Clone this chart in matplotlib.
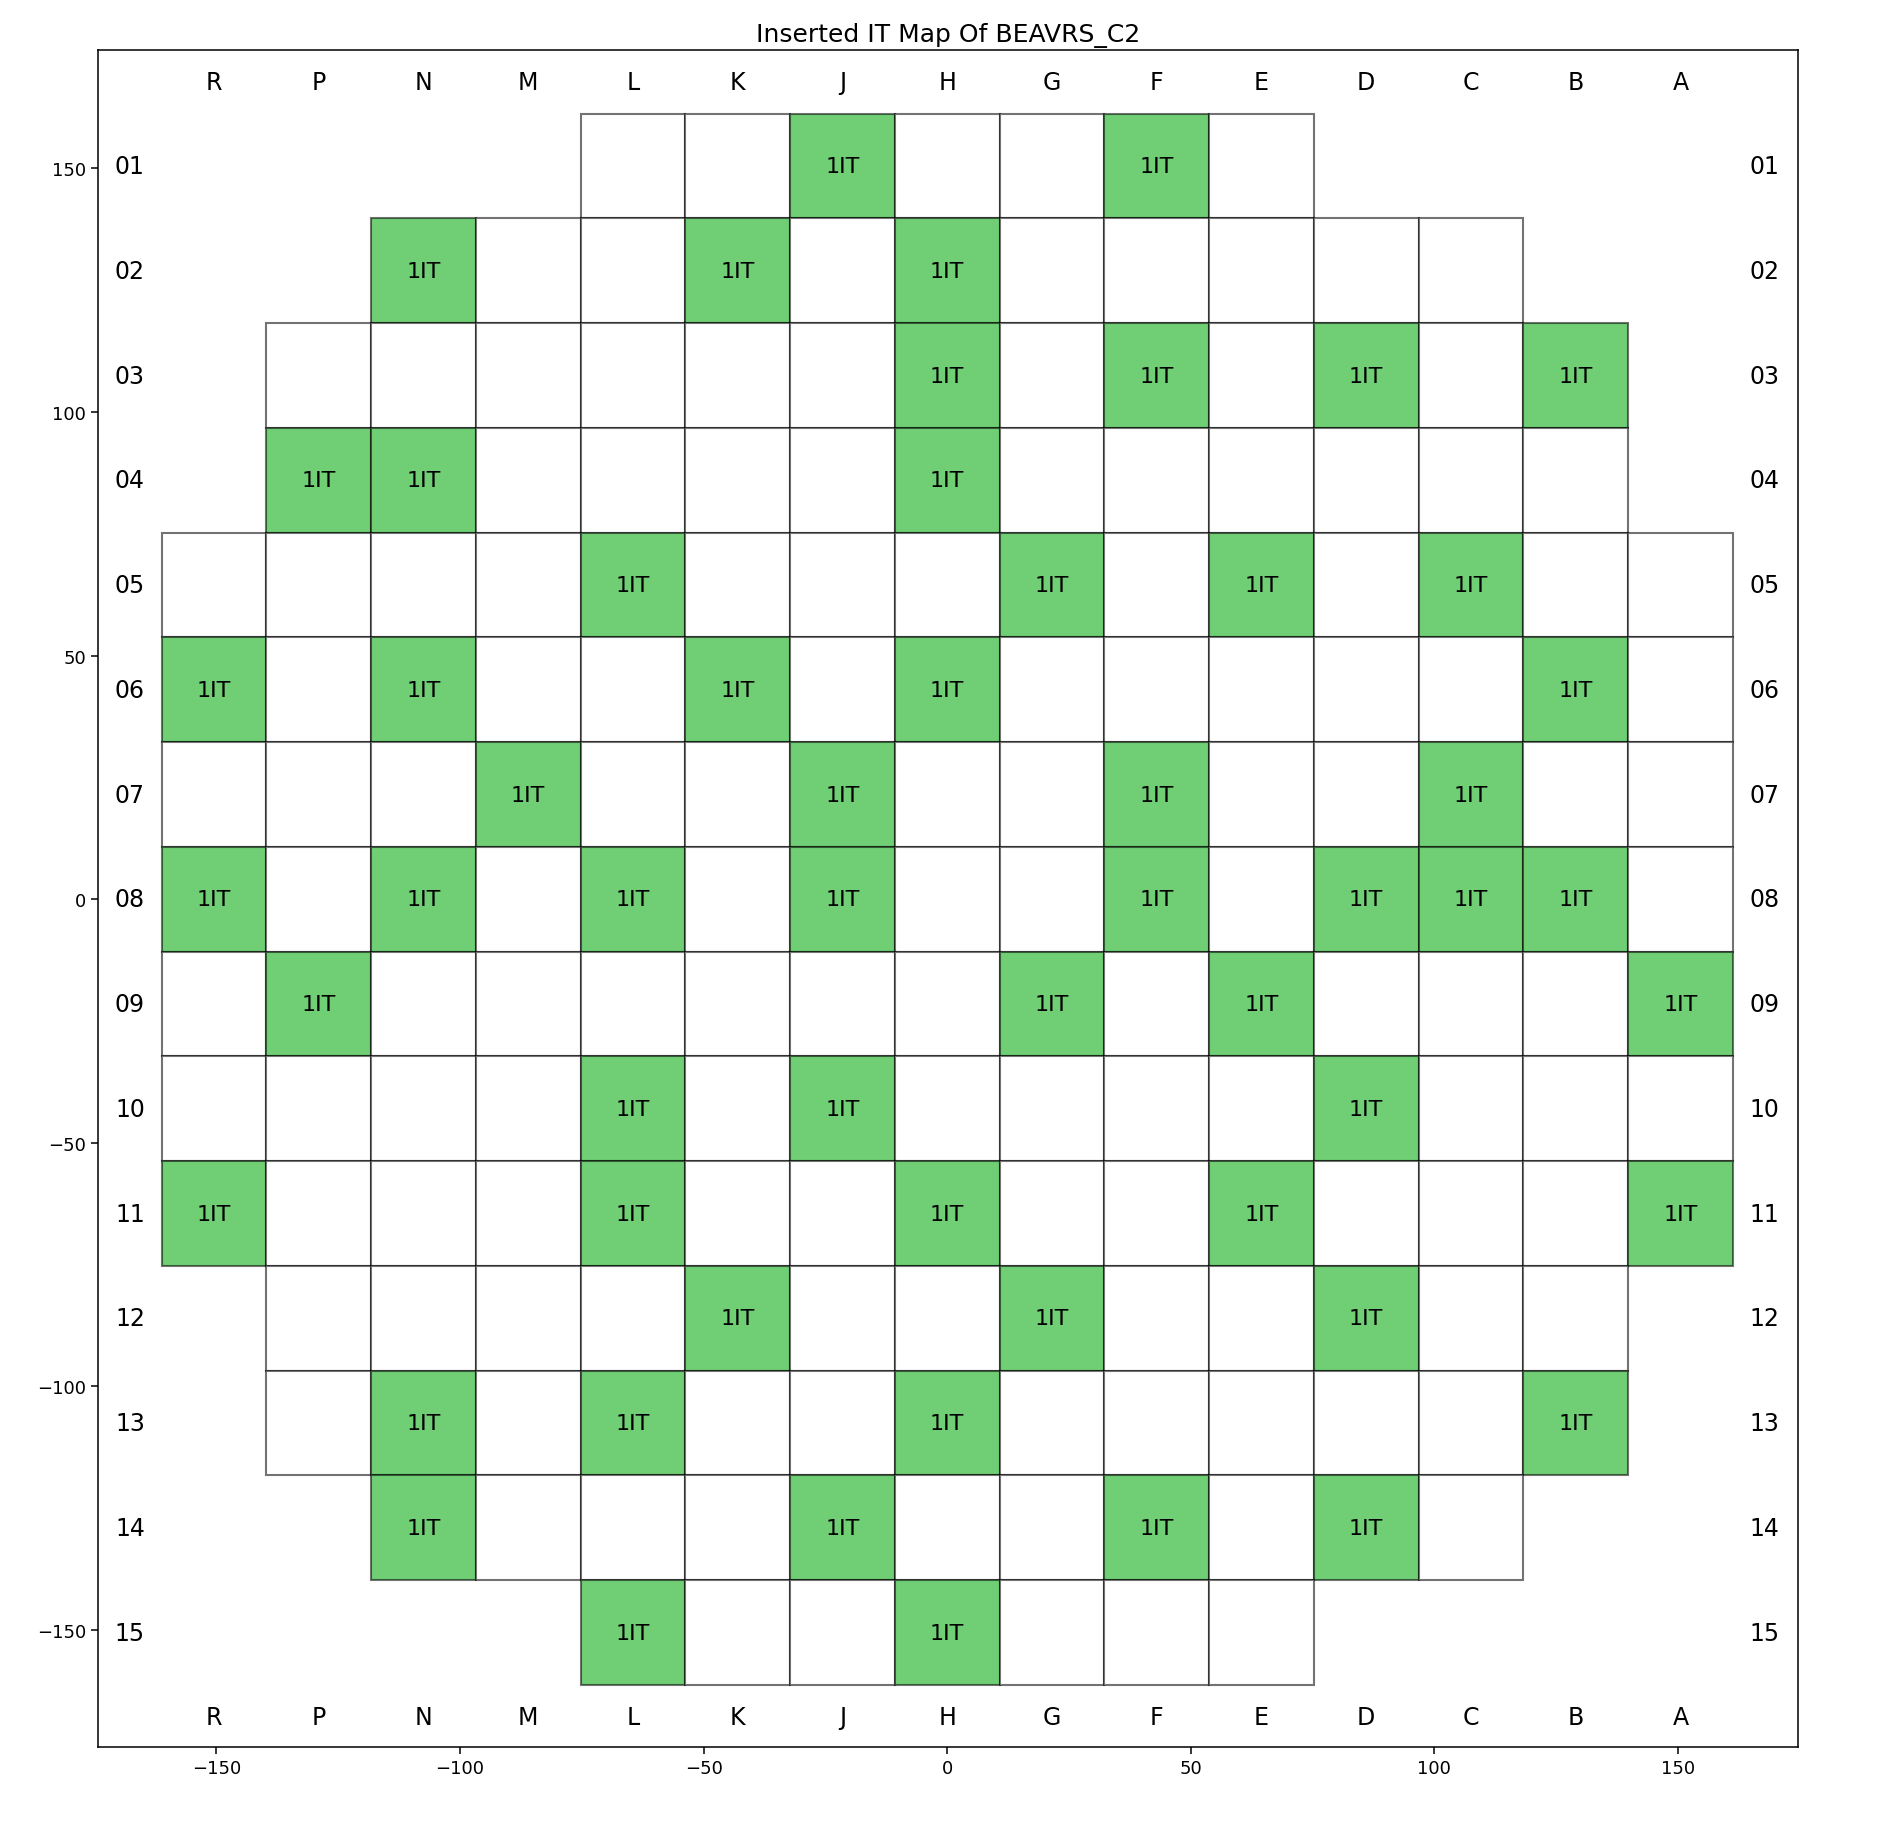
import numpy as np
import matplotlib.pyplot as plt
from matplotlib.patches import Rectangle

# core map data
cols = ['R', 'P', 'N', 'M', 'L', 'K', 'J', 'H', 'G', 'F', 'E', 'D', 'C', 'B', 'A']
rows = ['01', '02', '03', '04', '05', '06', '07', '08', '09', '10', '11', '12', '13', '14', '15']
row_first = ['L', 'N', 'P', 'P', 'R', 'R', 'R', 'R', 'R', 'R', 'R', 'P', 'P', 'N', 'L']
row_last = ['E', 'C', 'B', 'B', 'A', 'A', 'A', 'A', 'A', 'A', 'A', 'B', 'B', 'C', 'E']
inserted = {
    '01': ['J', 'F'],
    '02': ['N', 'K', 'H'],
    '03': ['H', 'F', 'D', 'B'],
    '04': ['P', 'N', 'H'],
    '05': ['L', 'G', 'E', 'C'],
    '06': ['R', 'N', 'K', 'H', 'B'],
    '07': ['M', 'J', 'F', 'C'],
    '08': ['R', 'N', 'L', 'J', 'F', 'D', 'C', 'B'],
    '09': ['P', 'G', 'E', 'A'],
    '10': ['L', 'J', 'D'],
    '11': ['R', 'L', 'H', 'E', 'A'],
    '12': ['K', 'G', 'D'],
    '13': ['N', 'L', 'H', 'B'],
    '14': ['N', 'J', 'F', 'D'],
    '15': ['L', 'H'],
}
label = '1IT'
pitch = 21.5

fig = plt.figure(figsize=(18.93, 18.40), dpi=100)
ax = fig.add_axes([0.0515, 0.050, 0.8985, 0.9225])

xc = (np.arange(len(cols)) - 7) * pitch
yc = (7 - np.arange(len(rows))) * pitch

for j, r in enumerate(rows):
    i0 = cols.index(row_first[j])
    i1 = cols.index(row_last[j])
    for i in range(i0, i1 + 1):
        c = cols[i]
        on = c in inserted[r]
        ax.add_patch(Rectangle((xc[i] - pitch / 2, yc[j] - pitch / 2), pitch, pitch,
                               facecolor='#70cf75' if on else 'white',
                               edgecolor=(0, 0, 0, 0.55), linewidth=1.5))
        if on:
            ax.text(xc[i], yc[j], label, ha='center', va='center', fontsize=16)

edge = 7.5 * pitch
for i, c in enumerate(cols):
    ax.text(xc[i], edge + 6.6, c, ha='center', va='center', fontsize=17)
    ax.text(xc[i], -edge - 6.6, c, ha='center', va='center', fontsize=17)
for j, r in enumerate(rows):
    ax.text(-edge - 6.5, yc[j], r, ha='center', va='center', fontsize=17)
    ax.text(edge + 6.5, yc[j], r, ha='center', va='center', fontsize=17)

ax.set_xlim(-174.3, 174.6)
ax.set_ylim(-174.0, 174.4)
ax.set_aspect('equal', adjustable='box')
ax.tick_params(labelsize=13, length=5, width=1.1)
for s in ax.spines.values():
    s.set_linewidth(1.1)
ax.set_title('Inserted IT Map Of BEAVRS_C2', fontsize=18)

plt.savefig('out.png', dpi=100)
